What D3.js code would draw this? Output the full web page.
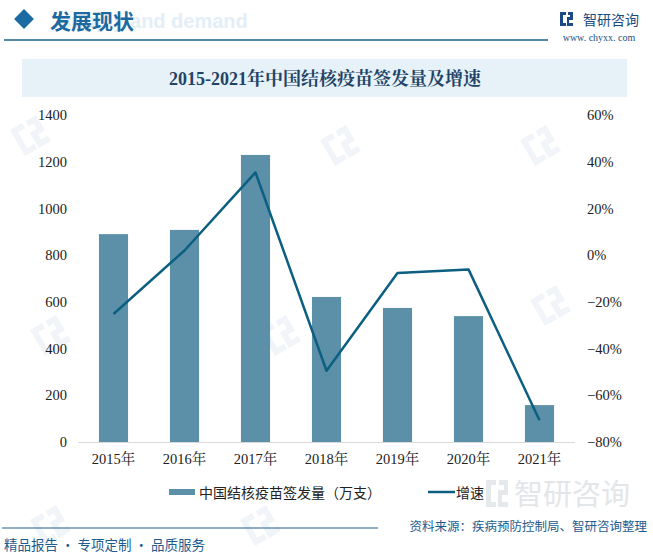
<!DOCTYPE html>
<html>
<head>
<meta charset="utf-8">
<script src="https://cdn.jsdelivr.net/npm/d3@7"></script>
<style>
  body { margin: 0; background: #fff; }
  svg { display: block; }
</style>
</head>
<body>
<svg id="chart" width="653" height="556"></svg>
<script>
// data
var years = ["2015年", "2016年", "2017年", "2018年", "2019年", "2020年", "2021年"];
var volume = [890, 908, 1229, 621, 574, 539, 158];      // 万支
var growth = [-25.2, 2.0, 35.4, -49.5, -7.6, -6.1, -70.7]; // %
var leftTicks = [0, 200, 400, 600, 800, 1000, 1200, 1400];
var rightTicks = [-80, -60, -40, -20, 0, 20, 40, 60];

var svg = d3.select("#chart");
var serif = "'Times New Roman', 'Liberation Serif', 'Noto Serif CJK SC', serif";
var sans = "'Noto Sans CJK SC', 'Noto Sans', sans-serif";

// faint watermarks (icon only, behind the chart)
function mark(x, y) {
  var g = svg.append("g")
    .attr("transform", "translate(" + x + "," + y + ") rotate(-30)");
  g.append("path").attr("d", "M0,0H14V6H6V24H14V30H0Z M18,0H30V18H22V24H30V30H16V12H24V6H18Z")
    .attr("fill", "#f1f5f9");
}
[[10, 130], [320, 140], [30, 330], [260, 330], [530, 300], [30, 520], [240, 520], [520, 140]].forEach(function (p) {
  mark(p[0], p[1]);
});

// header
svg.append("text").attr("x", 60).attr("y", 28).text("supply and demand")
  .attr("font-family", "'Liberation Sans', Arial, sans-serif").attr("font-weight", "bold")
  .attr("font-size", 20).attr("fill", "#e3eef7");
svg.append("rect").attr("x", 17).attr("y", 12).attr("width", 14).attr("height", 14)
  .attr("transform", "rotate(45,24,19)").attr("fill", "#1a6aa3");
svg.append("text").attr("x", 50).attr("y", 29).text("发展现状")
  .attr("font-family", sans).attr("font-weight", "bold").attr("font-size", 21).attr("fill", "#1d6aa0");
svg.append("line").attr("x1", 4).attr("x2", 548).attr("y1", 40).attr("y2", 40)
  .attr("stroke", "#1f5f8a").attr("stroke-width", 1.5);

// logo
var logo = svg.append("g").attr("transform", "translate(560,12)");
logo.append("path").attr("d", "M0,0H6V3H3V11H6V14H0Z M8,0H13V8H9V11H13V14H7V5H10V3H8Z").attr("fill", "#1b4a86");
logo.append("text").attr("x", 23).attr("y", 13).text("智研咨询")
  .attr("font-family", sans).attr("font-size", 14).attr("fill", "#1b4a80");
svg.append("text").attr("x", 599).attr("y", 41).attr("text-anchor", "middle").text("www. chyxx. com")
  .attr("font-family", serif).attr("font-size", 10).attr("fill", "#24507f");

// title box
svg.append("rect").attr("x", 22).attr("y", 59).attr("width", 605).attr("height", 38).attr("fill", "#e6f1f8");
svg.append("text").attr("x", 325).attr("y", 85).attr("text-anchor", "middle")
  .text("2015-2021年中国结核疫苗签发量及增速")
  .attr("font-family", serif).attr("font-weight", "bold").attr("font-size", 18).attr("fill", "#1f4466");

// scales
var x = d3.scaleBand().domain(years).range([78, 575]).paddingInner(0.59).paddingOuter(0.295);
var yL = d3.scaleLinear().domain([0, 1400]).range([442, 115]);
var yR = d3.scaleLinear().domain([-80, 60]).range([442, 115]);

// bars
svg.append("g").selectAll("rect").data(volume).enter().append("rect")
  .attr("x", function (d, i) { return x(years[i]); })
  .attr("width", x.bandwidth())
  .attr("y", function (d) { return yL(d); })
  .attr("height", function (d) { return yL(0) - yL(d); })
  .attr("fill", "#5b90a8");

// baseline
svg.append("line").attr("x1", 78).attr("x2", 575).attr("y1", 442.5).attr("y2", 442.5)
  .attr("stroke", "#d9d9d9").attr("stroke-width", 1);

// growth line
var line = d3.line()
  .x(function (d, i) { return x(years[i]) + x.bandwidth() / 2; })
  .y(function (d) { return yR(d); });
svg.append("path").datum(growth).attr("d", line).attr("fill", "none")
  .attr("stroke", "#0c5f80").attr("stroke-width", 2.5).attr("stroke-linejoin", "round");

// axes
var axL = svg.append("g").attr("transform", "translate(67,0)")
  .call(d3.axisLeft(yL).tickValues(leftTicks).tickSize(0).tickPadding(0).tickFormat(d3.format("d")));
var axR = svg.append("g").attr("transform", "translate(587,0)")
  .call(d3.axisRight(yR).tickValues(rightTicks).tickSize(0).tickPadding(0)
    .tickFormat(function (d) { return (d < 0 ? "\u2212" + (-d) : d) + "%"; }));
var axX = svg.append("g").attr("transform", "translate(0,443)")
  .call(d3.axisBottom(x).tickSize(0).tickPadding(11));
[axL, axR, axX].forEach(function (a) {
  a.select(".domain").remove();
  a.selectAll("text").attr("font-family", serif).attr("font-size", 14.5).attr("fill", "#222");
});

// footer watermark
var wm = svg.append("g").attr("transform", "translate(486,480)");
wm.append("path").attr("d", "M0,0H10V5H5V22H10V27H0Z M13,0H22V15H16V22H22V27H12V10H18V5H13Z").attr("fill", "#e6e9ec");
wm.append("text").attr("x", 28).attr("y", 25).text("智研咨询")
  .attr("font-family", sans).attr("font-size", 29).attr("fill", "#e3e6e9");

// legend
var leg = svg.append("g");
leg.append("rect").attr("x", 169).attr("y", 489).attr("width", 26).attr("height", 6).attr("fill", "#5b90a8");
leg.append("text").attr("x", 199).attr("y", 498).text("中国结核疫苗签发量（万支）")
  .attr("font-family", sans).attr("font-size", 14).attr("fill", "#222");
leg.append("line").attr("x1", 428).attr("x2", 455).attr("y1", 492).attr("y2", 492)
  .attr("stroke", "#0c5f80").attr("stroke-width", 2.5);
leg.append("text").attr("x", 456).attr("y", 498).text("增速")
  .attr("font-family", sans).attr("font-size", 14).attr("fill", "#222");

// footer
svg.append("line").attr("x1", 2).attr("x2", 378).attr("y1", 528).attr("y2", 528)
  .attr("stroke", "#1f5f8a").attr("stroke-width", 1.2);
svg.append("text").attr("x", 647).attr("y", 531).attr("text-anchor", "end")
  .text("资料来源：疾病预防控制局、智研咨询整理")
  .attr("font-family", sans).attr("font-size", 12.5).attr("fill", "#1d5c8e");
svg.append("text").attr("x", 4).attr("y", 550).text("精品报告 · 专项定制 · 品质服务")
  .attr("font-family", sans).attr("font-size", 13.5).attr("fill", "#1d5c8e");
</script>
</body>
</html>
